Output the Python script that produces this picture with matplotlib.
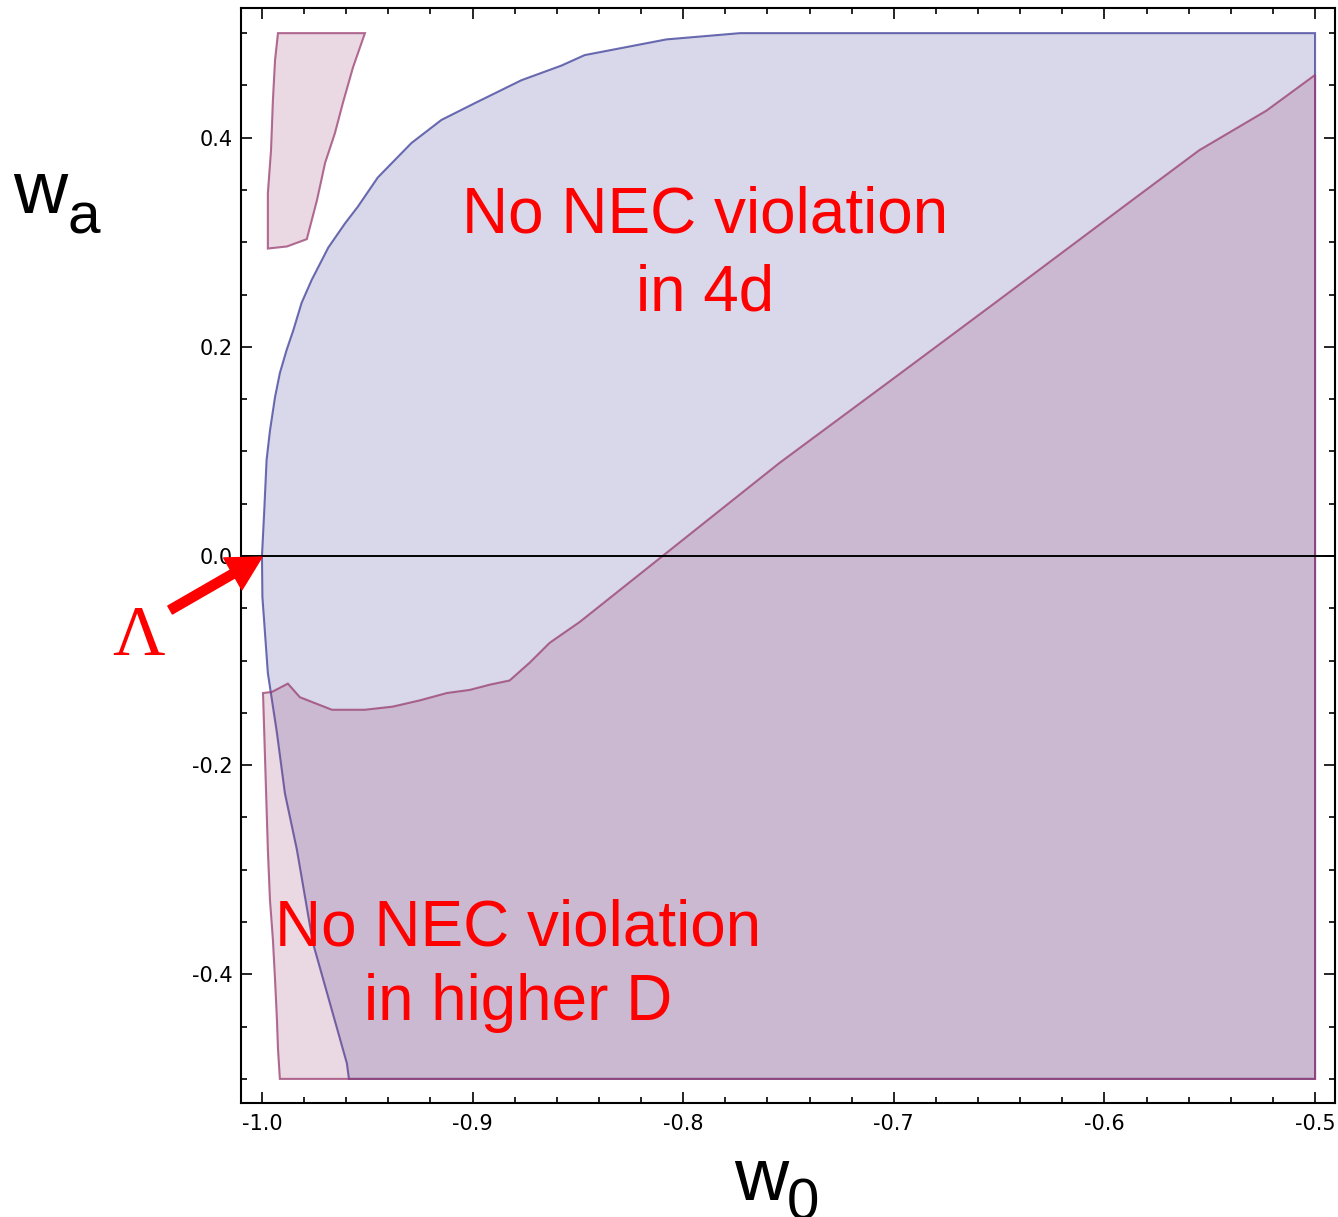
"""Region plot in the (w0, wa) plane: NEC violation regions in 4d and higher D."""

import matplotlib.pyplot as plt
from matplotlib.ticker import MultipleLocator

# --- boundaries ---
# 4d region: left boundary curve (bottom -> top), then closes along wa=0.5 and w0=-0.5
nec4d_curve_wa = [-0.5, -0.485, -0.37, -0.281, -0.227, -0.169, -0.112, -0.039, 0.0,
                  0.044, 0.092, 0.120, 0.152, 0.175, 0.197, 0.216, 0.242, 0.264,
                  0.295, 0.318, 0.334, 0.362, 0.395, 0.417, 0.433, 0.455, 0.469,
                  0.479, 0.494, 0.5]
nec4d_curve_w0 = [-0.9587, -0.9597, -0.9758, -0.9834, -0.9891, -0.9929, -0.9972,
                  -0.9998, -1.0, -0.9989, -0.9978, -0.9962, -0.9938, -0.9915,
                  -0.9883, -0.9851, -0.9812, -0.9764, -0.9685, -0.9606, -0.9545,
                  -0.945, -0.929, -0.9148, -0.899, -0.8768, -0.8578, -0.8468,
                  -0.808, -0.773]

# higher-D region, main piece: left edge (bottom -> top)
hd_left_w0 = [-0.9915, -0.9924, -0.9929, -0.9938, -0.9948, -0.9962, -0.9972, -0.9995]
hd_left_wa = [-0.5, -0.471, -0.443, -0.405, -0.367, -0.329, -0.281, -0.131]
# upper edge (left -> right)
hd_top_w0 = [-0.9953, -0.9877, -0.982, -0.9668, -0.9511, -0.9379, -0.925, -0.9122,
             -0.9013, -0.8918, -0.8824, -0.8729, -0.8634, -0.8491, -0.8098, -0.7543,
             -0.70, -0.65, -0.587, -0.555, -0.523, -0.5]
hd_top_wa = [-0.130, -0.122, -0.135, -0.147, -0.147, -0.144, -0.138, -0.131,
             -0.128, -0.123, -0.119, -0.102, -0.083, -0.063, 0.0, 0.089,
             0.17, 0.245, 0.340, 0.388, 0.426, 0.46]

# higher-D region, small island at top left (traced around)
island_w0 = [-0.9924, -0.9938, -0.9948, -0.9957, -0.9972, -0.9972, -0.9881, -0.9787,
             -0.9739, -0.970, -0.9654, -0.9616, -0.9568, -0.9511]
island_wa = [0.5, 0.474, 0.436, 0.388, 0.347, 0.294, 0.296, 0.303,
             0.340, 0.376, 0.404, 0.433, 0.467, 0.5]

x_ticks = [-1.0, -0.9, -0.8, -0.7, -0.6, -0.5]
y_ticks = [-0.4, -0.2, 0.0, 0.2, 0.4]

W0_MAX, WA_MIN, WA_MAX = -0.5, -0.5, 0.5

BLUE = (61 / 255, 61 / 255, 153 / 255)
PURPLE = (153 / 255, 61 / 255, 113 / 255)

fig = plt.figure(figsize=(13.38, 12.17), dpi=100)
ax = fig.add_axes([0.1801, 0.0937, 0.8177, 0.8997])
ax.set_xlim(-1.00996, -0.4905)
ax.set_ylim(-0.523, 0.524)

# 4d region
bx = nec4d_curve_w0 + [W0_MAX, W0_MAX]
by = nec4d_curve_wa + [WA_MAX, WA_MIN]
ax.fill(bx, by, facecolor=BLUE, alpha=0.2, edgecolor="none")
ax.fill(bx, by, facecolor="none", edgecolor=BLUE, alpha=0.75, lw=1.5)

# higher-D regions
px = hd_left_w0 + hd_top_w0 + [W0_MAX]
py = hd_left_wa + hd_top_wa + [WA_MIN]
for xs, ys in [(px, py), (island_w0, island_wa)]:
    ax.fill(xs, ys, facecolor=PURPLE, alpha=0.2, edgecolor="none")
    ax.fill(xs, ys, facecolor="none", edgecolor=PURPLE, alpha=0.75, lw=1.5)

ax.axhline(0.0, color="black", lw=1.4, zorder=5)

# frame and ticks
for s in ax.spines.values():
    s.set_linewidth(1.5)
ax.set_xticks(x_ticks)
ax.set_yticks(y_ticks)
ax.xaxis.set_minor_locator(MultipleLocator(0.02))
ax.yaxis.set_minor_locator(MultipleLocator(0.05))
ax.tick_params(which="both", direction="in", top=True, right=True, width=1.2)
ax.tick_params(which="major", length=8, labelsize=15)
ax.tick_params(which="minor", length=4)
ax.tick_params(axis="x", which="major", pad=8)
ax.tick_params(axis="y", which="major", pad=6)
ax.set_xticklabels([f"{v:.1f}" for v in x_ticks])
ax.set_yticklabels([f"{v:.1f}" for v in y_ticks])

# labels in the plot
red_kw = dict(color="red", fontsize=46, family="Liberation Sans", ha="center", va="baseline")
ax.text(-0.7894, 0.3098, "No NEC violation", **red_kw)
ax.text(-0.7894, 0.2352, "in 4d", **red_kw)
ax.text(-0.8786, -0.372, "No NEC violation", **red_kw)
ax.text(-0.8786, -0.4436, "in higher D", **red_kw)

ax.text(-1.0588, -0.0946, "Λ", color="red", fontsize=52, family="Liberation Serif",
        ha="center", va="baseline")
ax.annotate("", xy=(-1.0, -0.001), xytext=(-1.0436, -0.0516),
            arrowprops=dict(arrowstyle="simple,head_length=1.1,head_width=1.2,tail_width=0.3",
                            color="red", mutation_scale=22, shrinkA=0, shrinkB=0),
            annotation_clip=False, zorder=6)

# axis labels
lab_kw = dict(color="black", family="Liberation Sans", va="baseline", ha="left")
fig.text(0.0097, 0.825, "w", fontsize=54, **lab_kw)
fig.text(0.0508, 0.8085, "a", fontsize=42, **lab_kw)
fig.text(0.549, 0.014, "w", fontsize=54, **lab_kw)
fig.text(0.588, -0.002, "0", fontsize=42, **lab_kw)

fig.savefig("out.png", dpi=100)
